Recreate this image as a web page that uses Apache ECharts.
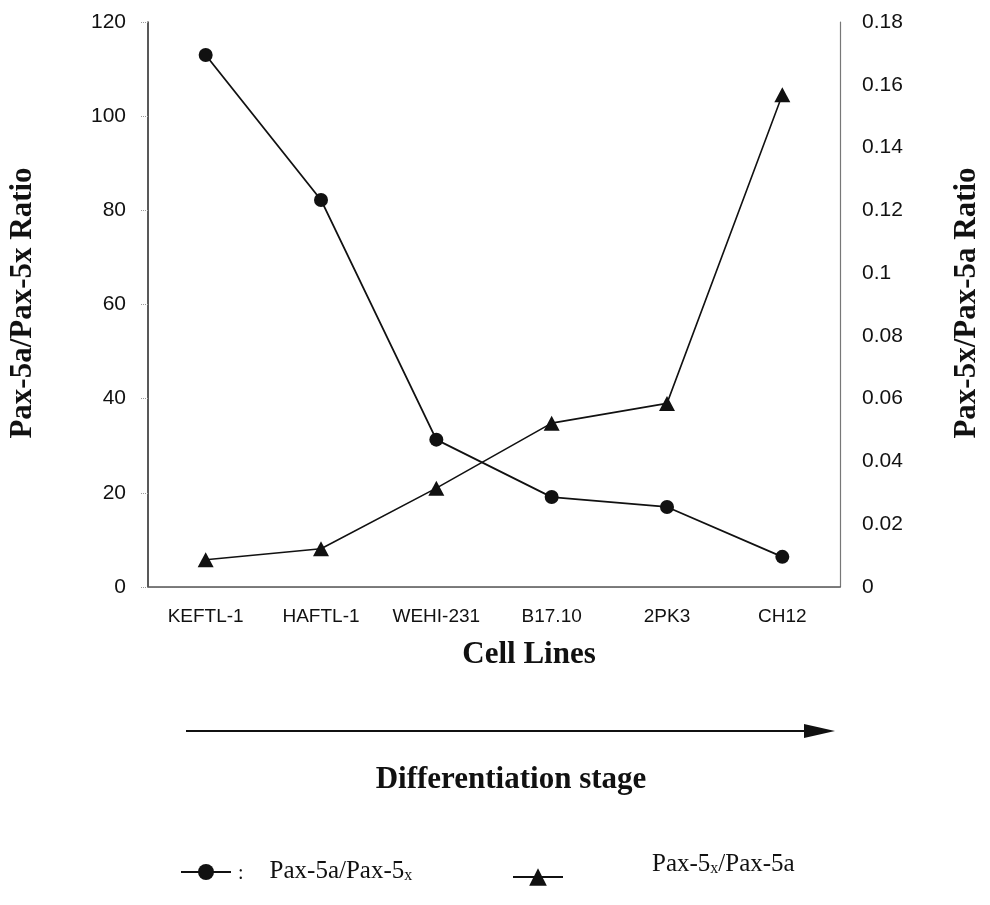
<!DOCTYPE html>
<html>
<head>
<meta charset="utf-8">
<script src="https://cdn.jsdelivr.net/npm/echarts@6/dist/echarts.min.js"></script>
<style>
html,body{margin:0;padding:0;background:#fff;}
#c{width:990px;height:905px;}
</style>
</head>
<body>
<div id="c"></div>
<script>
var categories = ['KEFTL-1', 'HAFTL-1', 'WEHI-231', 'B17.10', '2PK3', 'CH12'];
var ratioAX = [113.0, 82.2, 31.3, 19.1, 17.0, 6.4];
var ratioXA = [0.0087, 0.0122, 0.0315, 0.0522, 0.0585, 0.1568];
var leftTicks = {min: 0, max: 120, interval: 20};
var rightTicks = {min: 0, max: 0.18, interval: 0.02};

var chart = echarts.init(document.getElementById('c'), null, {renderer: 'canvas'});
var tickFont = {color: '#111', fontFamily: 'Liberation Sans, Arial, sans-serif', fontSize: 21};
var titleFont = 'bold 31px "Liberation Serif", "Times New Roman", serif';

chart.setOption({
  animation: false,
  backgroundColor: '#fff',
  grid: {left: 148, right: 150, top: 22, bottom: 318, show: false},
  xAxis: [{
    type: 'category',
    data: categories,
    boundaryGap: true,
    position: 'bottom',
    axisLine: {show: true, lineStyle: {color: '#555', width: 1.5}},
    axisTick: {show: false},
    axisLabel: {margin: 20, interval: 0, fontSize: 19, color: '#111', fontFamily: 'Liberation Sans, Arial, sans-serif'},
    splitLine: {show: false}
  }, {
    type: 'category',
    data: categories,
    position: 'top',
    axisLine: {show: true, lineStyle: {color: '#777', width: 1, type: 'dotted'}},
    axisTick: {show: false},
    axisLabel: {show: false}
  }],
  yAxis: [{
    type: 'value',
    position: 'left',
    min: leftTicks.min, max: leftTicks.max, interval: leftTicks.interval,
    axisLine: {show: true, lineStyle: {color: '#222', width: 1.5}},
    axisTick: {show: true, length: 8, lineStyle: {color: '#999', type: 'dotted'}},
    axisLabel: Object.assign({margin: 22}, tickFont),
    splitLine: {show: false}
  }, {
    type: 'value',
    position: 'right',
    min: rightTicks.min, max: rightTicks.max, interval: rightTicks.interval,
    axisLine: {show: true, lineStyle: {color: '#777', width: 1.2}},
    axisTick: {show: false},
    axisLabel: Object.assign({margin: 22}, tickFont),
    splitLine: {show: false}
  }],
  legend: [{
    data: ['Pax-5a/Pax-5x'],
    left: 180, top: 859,
    padding: 0,
    itemWidth: 50, itemHeight: 20,
    formatter: function () { return '{c|:}{t|Pax-5a/Pax-5}{s|x}'; },
    textStyle: {
      color: '#111',
      rich: {
        c: {fontFamily: 'Liberation Serif', fontSize: 20, padding: [0, 26, 0, 2], verticalAlign: 'bottom', lineHeight: 24},
        t: {fontFamily: 'Liberation Serif', fontSize: 25, verticalAlign: 'bottom', lineHeight: 24},
        s: {fontFamily: 'Liberation Serif', fontSize: 16, verticalAlign: 'bottom', lineHeight: 15}
      }
    }
  }, {
    data: ['Pax-5x/Pax-5a'],
    left: 512, top: 852,
    padding: 0,
    itemWidth: 50, itemHeight: 22,
    formatter: function () { return '{t|Pax-5}{s|x}{t|/Pax-5a}'; },
    textStyle: {
      color: '#111',
      padding: [0, 0, 24, 84],
      rich: {
        t: {fontFamily: 'Liberation Serif', fontSize: 25, verticalAlign: 'bottom', lineHeight: 24},
        s: {fontFamily: 'Liberation Serif', fontSize: 16, verticalAlign: 'bottom', lineHeight: 15}
      }
    }
  }],
  graphic: [
    {type: 'text', x: 23, y: 303, rotation: Math.PI / 2,
     style: {text: 'Pax-5a/Pax-5x Ratio', font: titleFont, fill: '#111', align: 'center', verticalAlign: 'middle'}},
    {type: 'text', x: 967, y: 303, rotation: Math.PI / 2,
     style: {text: 'Pax-5x/Pax-5a Ratio', font: titleFont, fill: '#111', align: 'center', verticalAlign: 'middle'}},
    {type: 'text', x: 529, y: 655,
     style: {text: 'Cell Lines', font: titleFont, fill: '#111', align: 'center', verticalAlign: 'middle'}},
    {type: 'text', x: 511, y: 780,
     style: {text: 'Differentiation stage', font: titleFont, fill: '#111', align: 'center', verticalAlign: 'middle'}},
    {type: 'line', shape: {x1: 186, y1: 731, x2: 808, y2: 731}, style: {stroke: '#111', lineWidth: 2}},
    {type: 'polygon', shape: {points: [[835, 731], [804, 724], [804, 738]]}, style: {fill: '#111'}}
  ],
  series: [{
    name: 'Pax-5a/Pax-5x',
    type: 'line',
    xAxisIndex: 0, yAxisIndex: 0,
    data: ratioAX,
    symbol: 'circle',
    symbolSize: 14,
    lineStyle: {color: '#111', width: 1.8},
    itemStyle: {color: '#111'}
  }, {
    name: 'Pax-5x/Pax-5a',
    type: 'line',
    xAxisIndex: 0, yAxisIndex: 1,
    data: ratioXA,
    symbol: 'triangle',
    symbolSize: [16, 15],
    lineStyle: {color: '#111', width: 1.6},
    itemStyle: {color: '#111'}
  }]
});
</script>
</body>
</html>
